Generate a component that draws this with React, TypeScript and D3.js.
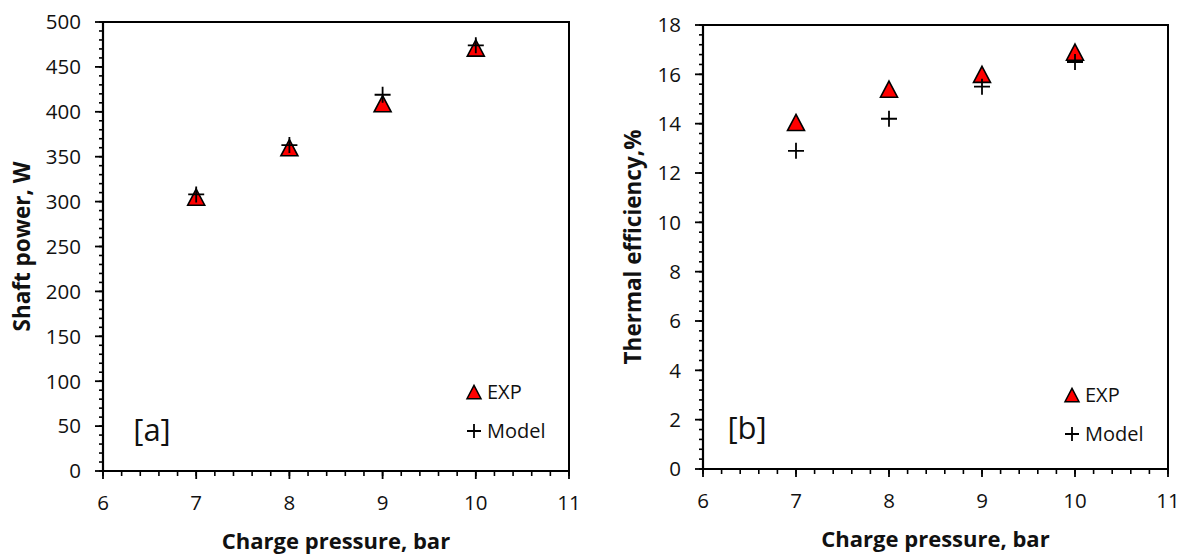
import React from "react";
import * as d3 from "d3";

const pressures = [7, 8, 9, 10];
const powerExp = [305, 360, 409, 471];
const powerModel = [308, 363, 419, 474];
const effExp = [14.05, 15.4, 16.0, 16.9];
const effModel = [12.9, 14.2, 15.5, 16.5];

const xTicks = [6, 7, 8, 9, 10, 11];
const powerTicks = [0, 50, 100, 150, 200, 250, 300, 350, 400, 450, 500];
const effTicks = [0, 2, 4, 6, 8, 10, 12, 14, 16, 18];

const FONT = "'Open Sans', Lato, sans-serif";

type PanelProps = {
  left: number; right: number; top: number; bottom: number;
  yMax: number; yTicks: number[]; yMinorStep: number;
  exp: number[]; model: number[];
  yTitle: string; yTitleX: number; tag: string; tagX: number; tagY: number;
  legX: number; legY1: number; legY2: number;
};

const triPath = (s: number) => `M0,${-s * 0.95}L${s},${s * 0.95}L${-s},${s * 0.95}Z`;
const plusPath = (s: number) => `M${-s},0H${s}M0,${-s}V${s}`;

function Panel(p: PanelProps) {
  const x = d3.scaleLinear().domain([6, 11]).range([p.left, p.right]);
  const y = d3.scaleLinear().domain([0, p.yMax]).range([p.bottom, p.top]);
  const xMinor = d3.range(6, 11.0001, 0.2);
  const yMinor = d3.range(0, p.yMax + 1e-6, p.yMinorStep);
  return (
    <g>
      {/* frame */}
      <path d={`M${p.left},${p.top}H${p.right}V${p.bottom}`} fill="none" stroke="#000" strokeWidth={2} />
      <line x1={p.left} x2={p.left} y1={p.top} y2={p.bottom + 1} stroke="#000" strokeWidth={2.2} />
      <line x1={p.left - 1} x2={p.right + 1} y1={p.bottom} y2={p.bottom} stroke="#000" strokeWidth={2.2} />
      {/* y ticks */}
      {yMinor.map((v, i) => (
        <line key={"ym" + i} x1={p.left - 4} x2={p.left} y1={y(v)} y2={y(v)} stroke="#000" strokeWidth={1.6} />
      ))}
      {p.yTicks.map((v) => (
        <g key={"y" + v}>
          <line x1={p.left - 8} x2={p.left} y1={y(v)} y2={y(v)} stroke="#000" strokeWidth={1.8} />
          <text x={p.left - 22} y={y(v)} dy="0.36em" textAnchor="end" fontSize={20.5} fontFamily={FONT} fill="#111">{v}</text>
        </g>
      ))}
      {/* x ticks */}
      {xMinor.map((v, i) => (
        <line key={"xm" + i} x1={x(v)} x2={x(v)} y1={p.bottom} y2={p.bottom + 5} stroke="#000" strokeWidth={1.6} />
      ))}
      {xTicks.map((v) => (
        <g key={"x" + v}>
          <line x1={x(v)} x2={x(v)} y1={p.bottom} y2={p.bottom + 8} stroke="#000" strokeWidth={1.8} />
          <text x={x(v)} y={p.bottom + 39} textAnchor="middle" fontSize={20.5} fontFamily={FONT} fill="#111">{v}</text>
        </g>
      ))}
      {/* titles */}
      <text x={(p.left + p.right) / 2} y={p.bottom + 78} textAnchor="middle" fontSize={22} fontWeight="bold" fontFamily={FONT} fill="#111">Charge pressure, bar</text>
      <text transform={`translate(${p.yTitleX},${(p.top + p.bottom) / 2}) rotate(-90)`} textAnchor="middle" dy="0.36em" fontSize={22.5} fontWeight="bold" fontFamily={FONT} fill="#111">{p.yTitle}</text>
      <text x={p.tagX} y={p.tagY} textAnchor="middle" fontSize={31} fontFamily={FONT} fill="#111">{p.tag}</text>
      {/* data */}
      {pressures.map((xv, i) => (
        <path key={"e" + i} d={triPath(8.5)} transform={`translate(${x(xv)},${y(p.exp[i])})`} fill="#ff0000" stroke="#000" strokeWidth={1.6} strokeLinejoin="miter" />
      ))}
      {pressures.map((xv, i) => (
        <path key={"m" + i} d={plusPath(8)} transform={`translate(${x(xv)},${y(p.model[i])})`} fill="none" stroke="#000" strokeWidth={1.8} />
      ))}
      {/* legend */}
      <path d={triPath(7)} transform={`translate(${p.legX},${p.legY1})`} fill="#ff0000" stroke="#000" strokeWidth={1.5} />
      <text x={p.legX + 13} y={p.legY1} dy="0.36em" fontSize={20} fontFamily={FONT} fill="#111">EXP</text>
      <path d={plusPath(7)} transform={`translate(${p.legX},${p.legY2})`} fill="none" stroke="#000" strokeWidth={1.8} />
      <text x={p.legX + 13} y={p.legY2} dy="0.36em" fontSize={20} fontFamily={FONT} fill="#111">Model</text>
    </g>
  );
}

export default function App() {
  return (
    <svg width={1187} height={557} style={{ position: "absolute", left: 0, top: 0, background: "#fff" }}>
      <rect width={1187} height={557} fill="#fff" />
      <Panel left={103} right={569} top={22} bottom={471} yMax={500} yTicks={powerTicks} yMinorStep={10}
        exp={powerExp} model={powerModel} yTitle="Shaft power, W" yTitleX={22}
        tag="[a]" tagX={152} tagY={441} legX={474} legY1={392} legY2={431} />
      <Panel left={703} right={1168} top={25} bottom={469} yMax={18} yTicks={effTicks} yMinorStep={0.4}
        exp={effExp} model={effModel} yTitle="Thermal efficiency,%" yTitleX={633}
        tag="[b]" tagX={747} tagY={439} legX={1072} legY1={395} legY2={434} />
    </svg>
  );
}
